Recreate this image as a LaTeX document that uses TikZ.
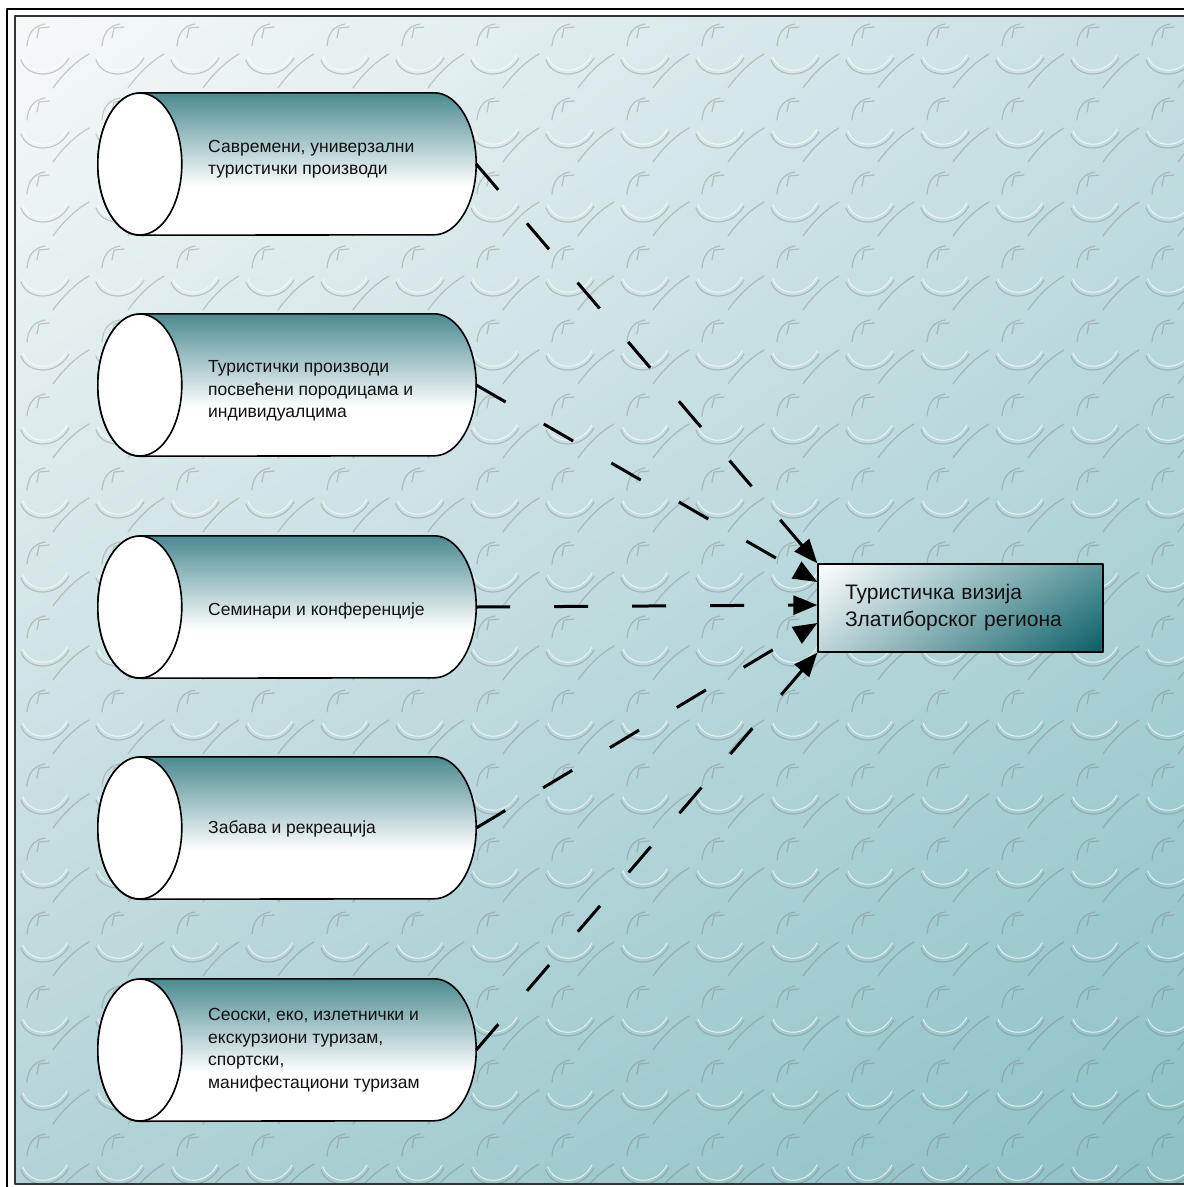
\documentclass[tikz,border=0pt]{standalone}
\usepackage{fontspec}
\setmainfont{Liberation Sans}
\usetikzlibrary{arrows.meta,calc,positioning,shadings}
\definecolor{vizPaperA}{HTML}{F7F9F9}
\definecolor{vizPaperB}{HTML}{C6DFE2}
\definecolor{vizPaperC}{HTML}{B3D3D6}
\definecolor{vizPaperD}{HTML}{8CC1C6}
\definecolor{vizTeal}{HTML}{4A8A90}
\definecolor{vizTealDark}{HTML}{0B5D66}
\definecolor{vizTealMid}{HTML}{5A979D}
\definecolor{vizTealSoft}{HTML}{BCD5D7}
\definecolor{vizInk}{HTML}{111111}
\pgfdeclareverticalshading{vizcyl}{100bp}{color(0bp)=(white); color(25bp)=(white); color(42bp)=(white); color(75bp)=(vizTeal); color(100bp)=(vizTeal)}

\begin{document}
\begin{tikzpicture}[x=1pt,y=-1pt,>=Latex,line cap=round,line join=round]
\useasboundingbox (0,0) rectangle (1184,1187);
\tikzset{cylspan/.style={inner sep=0pt,minimum width=378pt,minimum height=142pt},cylbody/.style={draw=black,line width=1.6pt,shading=vizcyl},cylface/.style={draw=black,fill=white,line width=1.6pt},cyltext/.style={anchor=west,inner sep=0pt,align=left,text=vizInk,font=\fontsize{17.5}{22.5}\selectfont},flow/.style={draw=black,line width=3pt,line cap=butt,dash pattern=on 34pt off 44pt,-{Triangle[length=24pt,width=19pt]}},embossdark/.style={draw=black!55,opacity=0.34,line width=1.2pt},embosslight/.style={draw=white,opacity=0.7,line width=1pt}}
% frame and textured backdrop
\draw[line width=2.6pt] (7,9) rectangle (1210,1210);
\shade[upper left=vizPaperA,upper right=vizPaperB,lower left=vizPaperC,lower right=vizPaperD] (15,16) rectangle (1190,1184);
\begin{scope}
\clip (15,16) rectangle (1190,1184);
\foreach \tx in {0,...,15}
 \foreach \ty in {0,...,15}
 {
  \begin{scope}[shift={(15+75*\tx,16+74*\ty)}]
   \draw[embossdark] (12,30) .. controls (13,18) and (18,10) .. (30,8);
   \draw[embossdark] (22,22) -- (24,12) -- (34,11);
   \draw[embossdark] (6,44) .. controls (12,62) and (42,64) .. (54,42);
   \draw[embosslight] (8,41) .. controls (14,58) and (41,60) .. (52,39);
   \draw[embossdark] (38,72) .. controls (48,58) and (60,46) .. (74,38);
  \end{scope}
 }
\end{scope}
\draw[line width=1.3pt,draw=black!80] (15,16) rectangle (1190,1184);
% product cylinders
\node[cylspan] (prod1) at (287,164) {};
\path[cylbody] ([xshift=42pt]prod1.north west) -- ([xshift=-42pt]prod1.north east) arc[start angle=-90,end angle=90,x radius=42,y radius=71] -- ([xshift=42pt]prod1.south west) arc[start angle=90,end angle=270,x radius=42,y radius=71] -- cycle;
\draw[cylface] ([xshift=42pt]prod1.west) ellipse[x radius=42,y radius=71];
\node[cyltext] (prod1text) at (208,159) {Савремени, универзални\\туристички производи};
\node[cylspan] (prod2) at (287,385) {};
\path[cylbody] ([xshift=42pt]prod2.north west) -- ([xshift=-42pt]prod2.north east) arc[start angle=-90,end angle=90,x radius=42,y radius=71] -- ([xshift=42pt]prod2.south west) arc[start angle=90,end angle=270,x radius=42,y radius=71] -- cycle;
\draw[cylface] ([xshift=42pt]prod2.west) ellipse[x radius=42,y radius=71];
\node[cyltext] (prod2text) at (208,391) {Туристички производи\\посвећени породицама и\\индивидуалцима};
\node[cylspan] (prod3) at (287,607) {};
\path[cylbody] ([xshift=42pt]prod3.north west) -- ([xshift=-42pt]prod3.north east) arc[start angle=-90,end angle=90,x radius=42,y radius=71] -- ([xshift=42pt]prod3.south west) arc[start angle=90,end angle=270,x radius=42,y radius=71] -- cycle;
\draw[cylface] ([xshift=42pt]prod3.west) ellipse[x radius=42,y radius=71];
\node[cyltext] (prod3text) at (208,611) {Семинари и конференције};
\node[cylspan] (prod4) at (287,828) {};
\path[cylbody] ([xshift=42pt]prod4.north west) -- ([xshift=-42pt]prod4.north east) arc[start angle=-90,end angle=90,x radius=42,y radius=71] -- ([xshift=42pt]prod4.south west) arc[start angle=90,end angle=270,x radius=42,y radius=71] -- cycle;
\draw[cylface] ([xshift=42pt]prod4.west) ellipse[x radius=42,y radius=71];
\node[cyltext] (prod4text) at (208,829) {Забава и рекреација};
\node[cylspan] (prod5) at (287,1050) {};
\path[cylbody] ([xshift=42pt]prod5.north west) -- ([xshift=-42pt]prod5.north east) arc[start angle=-90,end angle=90,x radius=42,y radius=71] -- ([xshift=42pt]prod5.south west) arc[start angle=90,end angle=270,x radius=42,y radius=71] -- cycle;
\draw[cylface] ([xshift=42pt]prod5.west) ellipse[x radius=42,y radius=71];
\node[cyltext] (prod5text) at (208,1050) {Сеоски, еко, излетнички и\\екскурзиони туризам,\\спортски,\\манифестациони туризам};
% the vision box
\node[draw=black,line width=1.3pt,upper left=white,upper right=vizTealMid,lower left=vizTealSoft,lower right=vizTealDark,minimum height=88pt,text width=231pt,inner xsep=27pt,align=left,text=vizInk,font=\fontsize{21}{27}\selectfont] (vision) at (960.5,608) {Туристичка визија\\Златиборског региона};
% dashed flows
\draw[flow] (prod1.east) -- (vision.north west);
\draw[flow] (prod2.east) -- ([yshift=26pt]vision.west);
\draw[flow] (prod3.east) -- ([yshift=3pt]vision.west);
\draw[flow] (prod4.east) -- ([yshift=-15pt]vision.west);
\draw[flow] (prod5.east) -- (vision.south west);
\end{tikzpicture}
\end{document}
